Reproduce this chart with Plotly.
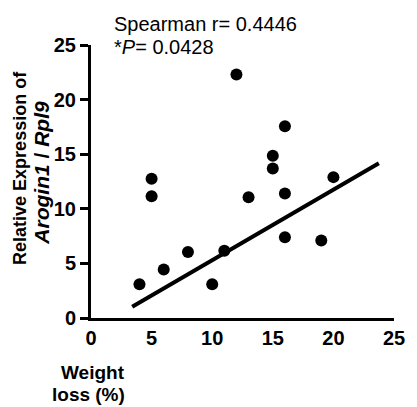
import plotly.graph_objects as go

# Data
weight_loss = [4, 6, 10, 8, 11, 5, 5, 12, 13, 15, 15, 16, 16, 16, 19, 20]
expression = [3.1, 4.45, 3.1, 6.05, 6.15, 12.75, 11.15, 22.3, 11.05, 14.85, 13.7, 17.55, 11.4, 7.4, 7.1, 12.9]
fit_x = [3.4, 23.75]
fit_y = [1.03, 14.17]
tick_vals = [0, 5, 10, 15, 20, 25]
tick_text = ["0", "5", "10", "15", "20", "25"]

FONT = "Liberation Sans, Arial, Helvetica, sans-serif"

fig = go.Figure()
fig.add_trace(go.Scatter(x=fit_x, y=fit_y, mode="lines",
                         line=dict(color="black", width=4), showlegend=False))
fig.add_trace(go.Scatter(x=weight_loss, y=expression, mode="markers",
                         marker=dict(color="black", size=12), showlegend=False))

# page has an 8px body margin: figure starts at (8, 8) in the window
OFF = 8
W, H = 417 - OFF, 407 - OFF
L, R, T, B = 91 - OFF, 19, 45 - OFF, 89
pw, ph = W - L - R, H - T - B

def px(xp):  # window pixel x -> paper
    return (xp - OFF - L) / pw

def py(yp):  # window pixel y -> paper
    return (H - B - (yp - OFF)) / ph

annos = [
    dict(text="Spearman r= 0.4446", x=px(112), y=py(24), xanchor="left", yanchor="middle",
         font=dict(size=20)),
    dict(text="*<i>P</i>= 0.0428", x=px(112), y=py(47), xanchor="left", yanchor="middle",
         font=dict(size=20)),
    dict(text="Relative Expression of", x=px(19), y=py(168), xanchor="center", yanchor="middle",
         textangle=-90, font=dict(size=18, weight="bold")),
    dict(text="<i>Arogin1</i> / <i>Rpl9</i>", x=px(40), y=py(173), xanchor="center", yanchor="middle",
         textangle=-90, font=dict(size=21, weight="bold")),
    dict(text="Weight", x=px(127), y=py(372), xanchor="right", yanchor="middle",
         font=dict(size=19, weight="bold")),
    dict(text="loss (%)", x=px(127), y=py(395), xanchor="right", yanchor="middle",
         font=dict(size=19, weight="bold")),
    dict(text="B", x=px(19), y=py(8), xanchor="left", yanchor="bottom",
         font=dict(size=22, weight="bold")),
]
for a in annos:
    a.update(xref="paper", yref="paper", showarrow=False)
    a["font"].update(family=FONT, color="black")

fig.update_layout(
    width=W, height=H,
    margin=dict(l=L, r=R, t=T, b=B, pad=0),
    plot_bgcolor="white", paper_bgcolor="white",
    font=dict(family=FONT, color="black"),
    annotations=annos,
    xaxis=dict(range=[0, 25], tickvals=tick_vals, ticktext=tick_text,
               showline=True, linewidth=3, linecolor="black", ticks="",
               showgrid=False, zeroline=False,
               tickfont=dict(family=FONT, size=20, weight="bold", color="black")),
    yaxis=dict(range=[0, 25], tickvals=tick_vals, ticktext=tick_text,
               showline=True, linewidth=3, linecolor="black",
               ticks="outside", ticklen=8, tickwidth=3, tickcolor="black",
               showgrid=False, zeroline=False,
               tickfont=dict(family=FONT, size=20, weight="bold", color="black")),
)

fig.write_html("out.html")
